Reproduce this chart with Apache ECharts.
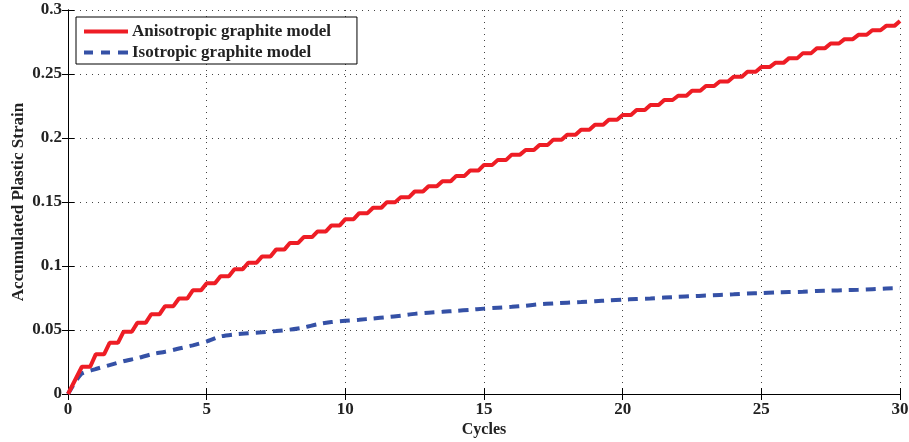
<!DOCTYPE html>
<html><head><meta charset="utf-8">
<script src="https://cdn.jsdelivr.net/npm/echarts@6/dist/echarts.min.js"></script>
<style>html,body{margin:0;padding:0;background:#fff}#c{width:909px;height:442px}</style>
</head><body><div id="c"></div>
<script>
// Anisotropic model: strain level reached at each half cycle (step plateaus)
const redCycles = [0,0.5,1,1.5,2,2.5,3,3.5,4,4.5,5,5.5,6,6.5,7,7.5,8,8.5,9,9.5,10,10.5,11,11.5,12,12.5,13,13.5,14,14.5,15,15.5,16,16.5,17,17.5,18,18.5,19,19.5,20,20.5,21,21.5,22,22.5,23,23.5,24,24.5,25,25.5,26,26.5,27,27.5,28,28.5,29,29.5,30];
const redLevels = [0,0.0213,0.031,0.040,0.0486,0.0556,0.0623,0.0686,0.0746,0.081,0.0865,0.092,0.0974,0.1026,0.1075,0.1128,0.118,0.1226,0.127,0.1317,0.1366,0.1413,0.1455,0.1499,0.1538,0.1582,0.1623,0.1662,0.1704,0.1746,0.179,0.1829,0.187,0.1907,0.1946,0.1987,0.2026,0.2065,0.2104,0.2143,0.218,0.2219,0.2258,0.2297,0.233,0.2369,0.2406,0.2442,0.2478,0.2517,0.2554,0.2587,0.2624,0.2663,0.2702,0.2738,0.2772,0.2806,0.2842,0.2876,0.2914];
// Isotropic model
const blueCycles = [0,0.25,0.5,1,1.5,2,2.5,3,3.5,4,4.5,5,5.5,6,6.5,7,7.5,8,8.5,9,9.5,10,10.5,11,11.5,12,12.5,13,13.5,14,14.5,15,15.5,16,16.5,17,17.5,18,18.5,19,19.5,20,20.5,21,21.5,22,22.5,23,23.5,24,24.5,25,25.5,26,26.5,27,27.5,28,28.5,29,29.5,30];
const blueValues = [0,0.009,0.016,0.0195,0.0226,0.0256,0.028,0.031,0.033,0.0355,0.038,0.041,0.045,0.0466,0.0475,0.0483,0.0492,0.0503,0.052,0.0545,0.0562,0.0572,0.058,0.059,0.060,0.0612,0.0626,0.0635,0.0642,0.065,0.0658,0.0667,0.0674,0.0681,0.069,0.0701,0.0708,0.0713,0.0718,0.0725,0.0731,0.0737,0.0742,0.0747,0.0753,0.0759,0.0764,0.0769,0.0774,0.0779,0.0785,0.0788,0.0793,0.0796,0.0799,0.0805,0.0808,0.0811,0.0814,0.0819,0.0824,0.0827];
const seriesNames = ['Anisotropic graphite model','Isotropic graphite model'];
const xTicks = [0,5,10,15,20,25,30];
const yTicks = [0,0.05,0.1,0.15,0.2,0.25,0.3];

const RED = '#EE1D25', BLUE = '#3551A6';
// staircase: plateau held for part of each half cycle, then a ramp to the next level
const holdFrac = 0.6;
const redData = [];
for (let i = 0; i < redCycles.length; i++) {
  redData.push([redCycles[i], redLevels[i]]);
  if (i < redCycles.length - 1) {
    const span = redCycles[i+1] - redCycles[i];
    const hold = i === 0 ? 0.1 : holdFrac;
    redData.push([redCycles[i] + span * hold, redLevels[i]]);
  }
}
const blueData = blueCycles.map((c, i) => [c, blueValues[i]]);

const font = '"Liberation Serif","Times New Roman",serif';
const chart = echarts.init(document.getElementById('c'));
const gridDot = {show:true, lineStyle:{color:'#444', type:[1,5], width:1}};
const solidIcon = 'path://M0,0H44V4H0Z';
const dashIcon = 'path://M0,0H9V4H0Z M17,0H26V4H17Z M34,0H44V4H34Z';
chart.setOption({
  animation:false,
  grid:{left:68, right:9, top:10, bottom:48, containLabel:false, outerBoundsMode:'none'},
  legend:{
    left:76, top:17, orient:'vertical', itemGap:4, itemWidth:44, itemHeight:4,
    symbolKeepAspect:false,
    padding:[6,26,3,8],
    borderColor:'#000', borderWidth:1, backgroundColor:'#fff',
    textStyle:{fontFamily:font, fontWeight:'bold', fontSize:17, color:'#222', padding:[0,0,0,-1]},
    data:[{name:seriesNames[0], icon:solidIcon, itemStyle:{color:RED}},
          {name:seriesNames[1], icon:dashIcon, itemStyle:{color:BLUE}}]
  },
  xAxis:[{
    type:'value', min:xTicks[0], max:xTicks[xTicks.length-1], interval:5,
    name:'Cycles', nameLocation:'middle', nameGap:28, nameMoveOverlap:false,
    nameTextStyle:{fontFamily:font, fontWeight:'bold', fontSize:16, color:'#222'},
    axisLine:{show:true, lineStyle:{color:'#000', width:1}},
    axisTick:{show:true, inside:true, length:6, lineStyle:{color:'#000'}},
    axisLabel:{fontFamily:font, fontWeight:'bold', fontSize:17, color:'#222', margin:7},
    splitLine:gridDot
  },{
    type:'value', position:'top', min:0, max:30, interval:5,
    axisLine:{show:true, lineStyle:{color:'#000', width:1}},
    axisTick:{show:true, inside:true, length:6, lineStyle:{color:'#000'}},
    axisLabel:{show:false}, splitLine:{show:false}
  }],
  yAxis:[{
    type:'value', min:yTicks[0], max:yTicks[yTicks.length-1], interval:0.05,
    name:'Accumulated Plastic Strain', nameLocation:'middle', nameGap:41, nameMoveOverlap:false,
    nameTextStyle:{fontFamily:font, fontWeight:'bold', fontSize:17, color:'#222'},
    axisLine:{show:true, lineStyle:{color:'#000', width:1}},
    axisTick:{show:true, inside:true, length:6, lineStyle:{color:'#000'}},
    axisLabel:{fontFamily:font, fontWeight:'bold', fontSize:17, color:'#222', margin:6},
    splitLine:gridDot
  },{
    type:'value', position:'right', min:0, max:0.3, interval:0.05,
    axisLine:{show:true, lineStyle:{color:'#000', width:1}},
    axisTick:{show:true, inside:true, length:6, lineStyle:{color:'#000'}},
    axisLabel:{show:false}, splitLine:{show:false}
  }],
  series:[{
    name:seriesNames[0], type:'line', data:redData, showSymbol:false, symbol:'none',
    lineStyle:{color:RED, width:4}, itemStyle:{color:RED}, z:3
  },{
    name:seriesNames[1], type:'line', data:blueData, showSymbol:false, symbol:'none', smooth:0.2,
    lineStyle:{color:BLUE, width:4, type:[10,7]}, itemStyle:{color:BLUE}, z:2
  }]
});
</script></body></html>
